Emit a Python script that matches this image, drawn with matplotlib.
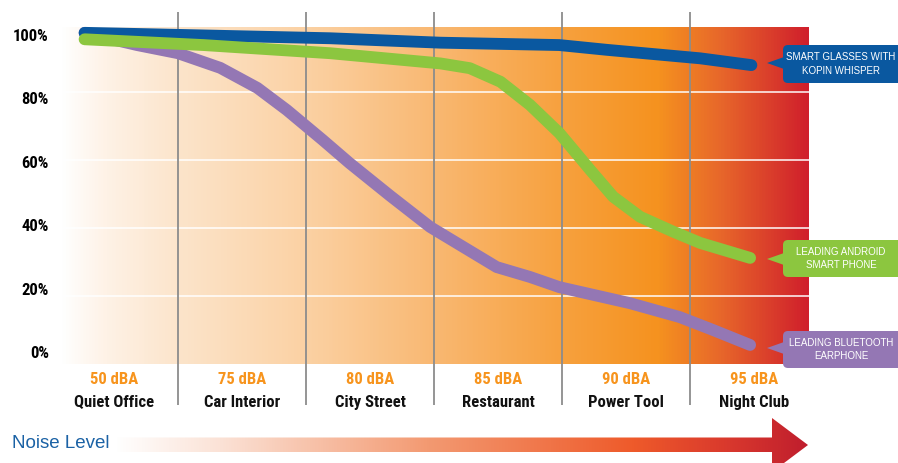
import numpy as np
import matplotlib
matplotlib.use('Agg')
import matplotlib.pyplot as plt
from matplotlib import font_manager
from matplotlib.colors import LinearSegmentedColormap
from matplotlib.patches import FancyBboxPatch, Polygon

# --- data ---
levels = ['50 dBA', '75 dBA', '80 dBA', '85 dBA', '90 dBA', '95 dBA']
places = ['Quiet Office', 'Car Interior', 'City Street', 'Restaurant', 'Power Tool', 'Night Club']
pct_labels = ['0%', '20%', '40%', '60%', '80%', '100%']

# x is the position along the category axis (0 = Quiet Office ... 5 = Night Club)
glasses_x = [-0.23, 0.5, 1.69, 2.55, 3.48, 3.85, 4.58, 4.98]
glasses_y = [97.4, 96.8, 95.8, 94.5, 93.8, 92.4, 89.9, 87.9]

android_x = [-0.23, 0.7, 1.69, 2.55, 2.78, 3.02, 3.25, 3.48, 3.72, 3.9, 4.11, 4.37, 4.58, 4.97]
android_y = [95.5, 93.8, 91.4, 88.4, 87.0, 83.0, 76.2, 67.9, 57.1, 49.2, 43.3, 38.9, 35.6, 31.2]

earphone_x = [-0.23, 0.18, 0.5, 0.83, 1.12, 1.35, 1.63, 1.84, 2.16, 2.47, 2.73, 2.99,
              3.25, 3.48, 4.03, 4.42, 4.68, 4.97]
earphone_y = [97.4, 93.8, 91.4, 87.1, 81.2, 74.7, 65.9, 59.1, 49.4, 40.3, 34.4, 28.5,
              25.6, 22.6, 17.9, 13.8, 10.0, 5.6]

BLUE = '#0A58A0'
GREEN = '#8CC63F'
PURPLE = '#9477B4'
ORANGE = '#F7941D'

names = {f.name for f in font_manager.fontManager.ttflist}
if 'Roboto Condensed' in names:
    cond = dict(family='Roboto Condensed', weight='bold')
    csize = 12
elif 'Liberation Sans Narrow' in names:
    cond = dict(family='Liberation Sans Narrow', weight='bold')
    csize = 12
else:
    cond = dict(family='Roboto', weight='bold')
    csize = 10.8

fig = plt.figure(figsize=(8.98, 4.63), dpi=100)

# main plotting area (the gradient panel)
ax = fig.add_axes([60 / 898, 1 - 364 / 463, 749 / 898, 337.3 / 463], zorder=1)
x0, x1, ymax = -0.422, 5.43, 99.2
ax.set_xlim(x0, x1)
ax.set_ylim(0, ymax)

bg_cmap = LinearSegmentedColormap.from_list('bg', [
    (0.0, '#FFFFFF'), (0.06, '#FEF2E6'), (0.16, '#FCE4CA'), (0.33, '#FBD1A3'),
    (0.50, '#F9B872'), (0.67, '#F7A13E'), (0.80, '#F5921F'), (0.88, '#E8692A'),
    (1.0, '#D01F2C')])
ramp = np.linspace(0, 1, 512).reshape(1, -1)
ax.imshow(ramp, extent=[x0, x1, 0, ymax], aspect='auto', cmap=bg_cmap, zorder=0)

for v in [20, 40, 60, 80]:
    ax.axhline(v, color='white', lw=1.2, alpha=0.9, zorder=1)

for s in ax.spines.values():
    s.set_visible(False)
ax.set_xticks([])
# the labels sit a little apart from the grid lines in the original
ax.set_yticks(np.linspace(3.5, 96.8, 6))
ax.set_yticklabels(pct_labels, fontsize=csize, **cond)
ax.tick_params(axis='y', length=0, pad=8)

trans = ax.get_xaxis_transform()
ax.vlines(np.arange(5) + 0.5, -0.122, 1.044, transform=trans, colors='#8C8C8C',
          lw=1.3, clip_on=False, zorder=2)

for i in range(len(places)):
    ax.text(i, -0.047, levels[i], transform=trans, ha='center', va='center',
            color=ORANGE, fontsize=csize, **cond)
    ax.text(i, -0.113, places[i], transform=trans, ha='center', va='center',
            color='#111111', fontsize=csize, **cond)

kw = dict(lw=8.5, solid_capstyle='round', solid_joinstyle='round', clip_on=False)
ax.plot(earphone_x, earphone_y, color=PURPLE, zorder=3, **kw)
ax.plot(glasses_x, glasses_y, color=BLUE, zorder=4, **kw)
ax.plot(android_x, android_y, color=GREEN, zorder=5, **kw)

# overlay in pixel coordinates for the arrow and callouts
ov = fig.add_axes([0, 0, 1, 1], zorder=2)
ov.set_xlim(0, 898)
ov.set_ylim(463, 0)
ov.axis('off')
ov.patch.set_alpha(0)

arrow_cmap = LinearSegmentedColormap.from_list('arrow', [
    (0.0, '#FFFFFF'), (0.15, '#FBE2D6'), (0.45, '#F39A72'), (0.75, '#EE5A2A'),
    (0.88, '#DA3A2D'), (1.0, '#C01E2D')])
arrow_pts = [(115, 437.5), (772, 437.5), (772, 418), (808, 445), (772, 472),
             (772, 452), (115, 452)]
arrow = Polygon(arrow_pts, closed=True, facecolor='none', edgecolor='none')
ov.add_patch(arrow)
im = ov.imshow(ramp, extent=[115, 808, 472, 418], aspect='auto', cmap=arrow_cmap)
im.set_clip_path(arrow)

ov.text(12, 443, 'Noise Level', ha='left', va='center', color='#1B62A5',
        fontsize=13.5, family='Liberation Sans')

callouts = [
    ('SMART GLASSES WITH\nKOPIN WHISPER', BLUE, 45, 83, 63),
    ('LEADING ANDROID\nSMART PHONE', GREEN, 240, 277, 259),
    ('LEADING BLUETOOTH\nEARPHONE', PURPLE, 331, 368, 348),
]
for txt, col, top, bot, tip in callouts:
    ov.add_patch(FancyBboxPatch((783, top), 140, bot - top,
                                boxstyle='round,pad=0,rounding_size=5',
                                fc=col, ec='none'))
    ov.add_patch(Polygon([(784, tip - 6), (767, tip), (784, tip + 6)],
                         closed=True, fc=col, ec='none'))
    ov.text(841, (top + bot) / 2, txt, ha='center', va='center', color='white',
            fontsize=7, family='Liberation Sans', linespacing=1.4)

fig.savefig('out.png', dpi=100)
